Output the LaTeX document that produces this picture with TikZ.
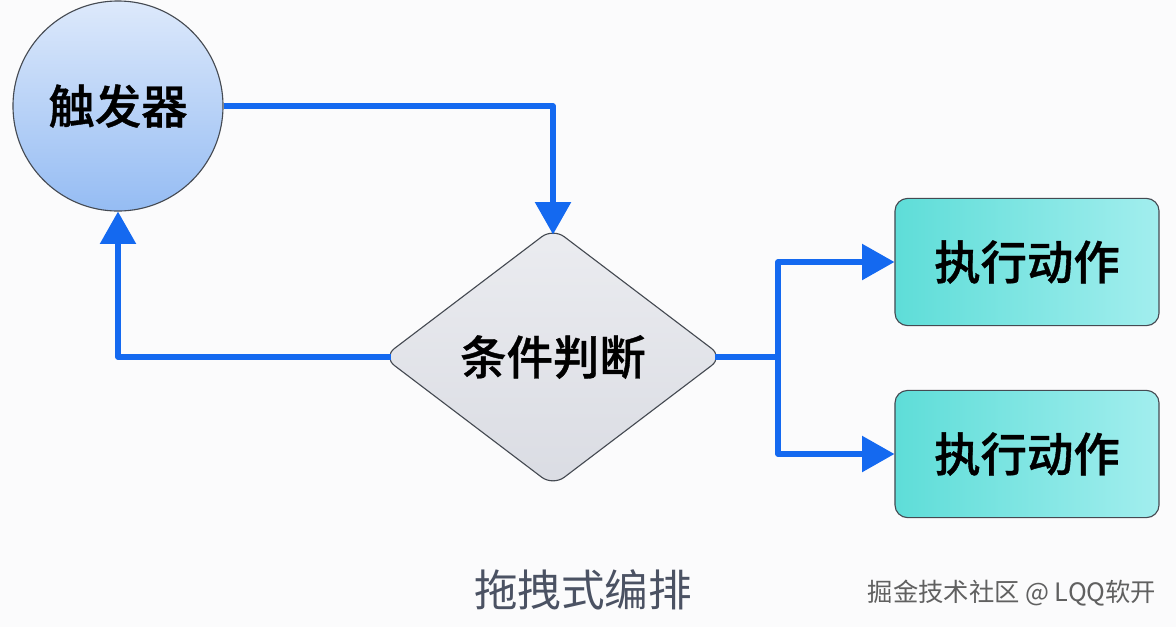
\documentclass[tikz,border=0pt]{standalone}
\usepackage{fontspec}
\usetikzlibrary{arrows.meta,shapes.geometric}
\newfontfamily\cjk{Noto Sans CJK SC}
\newfontfamily\cjkmed[FakeBold=0.8]{Noto Sans CJK SC Medium}
\definecolor{flowblue}{HTML}{1469F0}
\definecolor{edgegray}{HTML}{454A52}
\definecolor{captiongray}{HTML}{4B5263}
\definecolor{pagebg}{HTML}{FBFBFC}
\definecolor{trigtop}{HTML}{DDE9FB}
\definecolor{trigbot}{HTML}{95BCF3}
\definecolor{condtop}{HTML}{EBECF0}
\definecolor{condbot}{HTML}{DADCE3}
\definecolor{actleft}{HTML}{5EDDD8}
\definecolor{actright}{HTML}{A2EEEE}

\begin{document}
\begin{tikzpicture}[x=0.025cm, y=-0.025cm,
  lbl/.style={font=\cjkmed\fontsize{33pt}{36pt}\selectfont, text=black},
  trig/.style={lbl, circle, draw=edgegray, line width=0.8pt, minimum size=5.25cm,
    inner sep=0pt, top color=trigtop, bottom color=trigbot},
  cond/.style={lbl, diamond, draw=edgegray, line width=0.8pt, rounded corners=10pt,
    minimum width=8.5cm, minimum height=6.45cm, inner sep=0pt,
    top color=condtop, bottom color=condbot},
  act/.style={lbl, rectangle, draw=edgegray, line width=0.8pt, rounded corners=9pt,
    minimum width=6.6cm, minimum height=3.18cm, left color=actleft, right color=actright},
  flow/.style={draw=flowblue, line width=3.6pt, line join=round,
    -{Triangle[length=23pt, width=25pt]}}]
  \fill[pagebg] (0,0) rectangle (1176,627);
  \node[trig] (trig) at (118,106) {触发器};
  \node[cond] (cond) at (553,357) {条件判断};
  \node[act] (act1) at (1027,262) {执行动作};
  \node[act] (act2) at (1027,454) {执行动作};
  \coordinate (fork) at (778,357);
  \draw[flow, shorten >=-5pt] (trig.east) -| (cond.north);
  \draw[flow, shorten <=-6pt] (cond.west) -| (trig.south);
  \draw[flow, shorten <=-6pt] (cond.east) -- (fork) |- (act1.west);
  \draw[flow] (fork) |- (act2.west);
  \node[font=\cjk\fontsize{31pt}{34pt}\selectfont, text=captiongray] (caption) at (583,590) {拖拽式编排};
  \node[font=\cjk\fontsize{18pt}{20pt}\selectfont, text=gray!75!black] (mark) at (1012,593) {掘金技术社区 @ LQQ软开};
\end{tikzpicture}
\end{document}
